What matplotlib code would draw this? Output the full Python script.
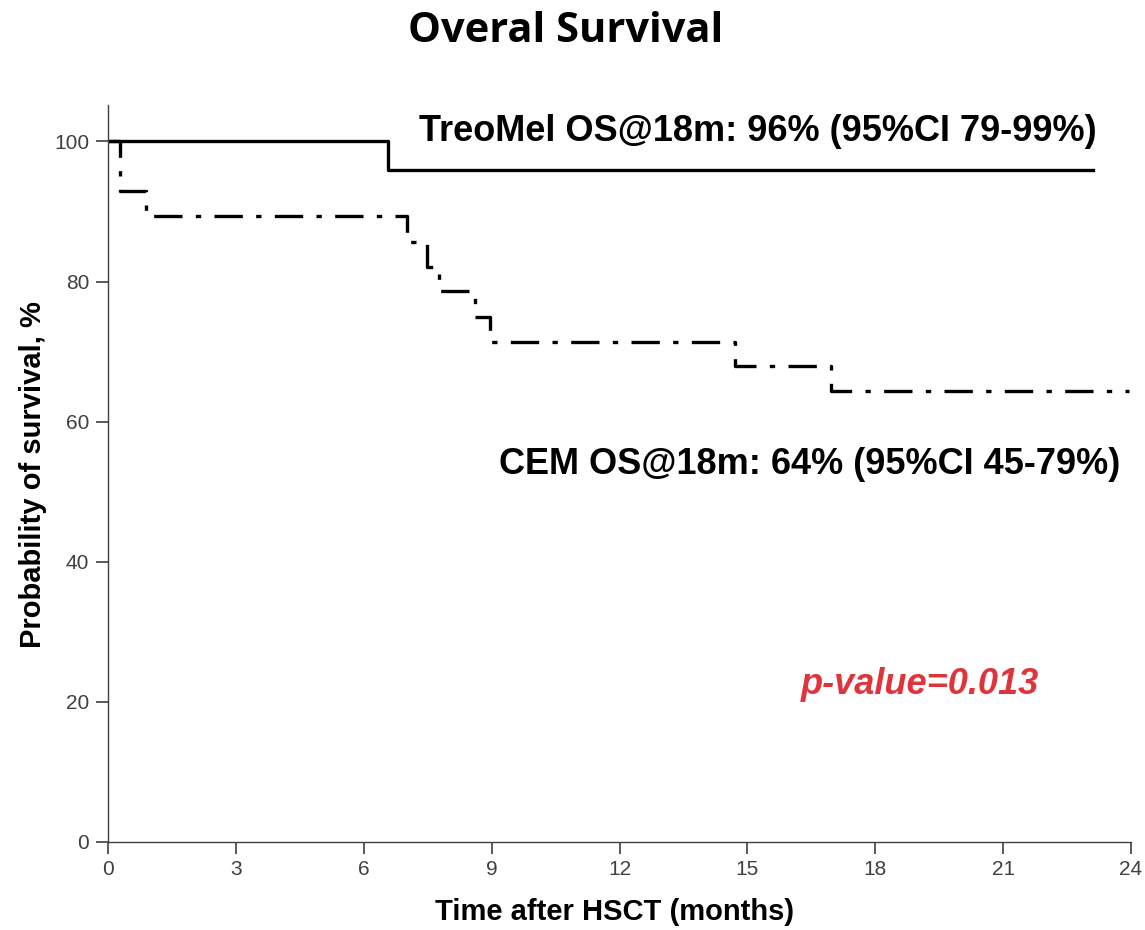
import matplotlib
matplotlib.use('Agg')
import matplotlib.pyplot as plt

# Kaplan-Meier steps
treo_t = [0, 6.57, 23.1]
treo_s = [100, 96.0, 96.0]

cem_t = [0, 0.28, 0.89, 7.01, 7.48, 7.77, 8.62, 8.97, 14.7, 16.95, 23.95]
cem_s = [100, 92.9, 89.3, 85.7, 82.1, 78.6, 75.0, 71.4, 67.9, 64.3, 64.3]

xticks = [0, 3, 6, 9, 12, 15, 18, 21, 24]
yticks = [0, 20, 40, 60, 80, 100]

plt.rcParams['font.family'] = ['Liberation Sans', 'DejaVu Sans']

fig = plt.figure(figsize=(11.45, 9.3), dpi=100)
ax = fig.add_axes([0.0943, 0.095, 0.8935, 0.792])

ax.step(treo_t, treo_s, where='post', color='black', lw=2.4)
ax.step(cem_t, cem_s, where='post', color='black', lw=2.4,
        linestyle=(0, (8.5, 4, 1.6, 4)))

ax.set_xlim(0, 24)
ax.set_ylim(0, 105.2)
ax.set_xticks(xticks)
ax.set_yticks(yticks)

for s in ['top', 'right']:
    ax.spines[s].set_visible(False)
for s in ['left', 'bottom']:
    ax.spines[s].set_color('#404040')
    ax.spines[s].set_linewidth(1.0)
ax.tick_params(axis='both', direction='out', length=8.5, width=1.2,
               color='#404040', labelcolor='#404040', labelsize=15, pad=5)

ax.set_xlabel('Time after HSCT (months)', fontsize=21, fontweight='bold')
ax.xaxis.set_label_coords(0.495, -0.0954)
ax.xaxis.label.set_verticalalignment('center')
ax.set_ylabel('Probability of survival, %', fontsize=21, fontweight='bold')
ax.yaxis.set_label_coords(-0.0733, 0.499)
ax.yaxis.label.set_verticalalignment('center')

ax.text(23.2, 101.4, 'TreoMel OS@18m: 96% (95%CI 79-99%)', ha='right',
        va='center', fontsize=26, fontweight='bold')
ax.text(23.74, 53.8, 'CEM OS@18m: 64% (95%CI 45-79%)', ha='right',
        va='center', fontsize=26, fontweight='bold')
ax.text(19.05, 22.4, 'p-value=0.013', ha='center', va='center', fontsize=26,
        fontweight='bold', fontstyle='italic', color='#e0343c')

fig.text(0.494, 0.966, 'Overal Survival', ha='center', va='center',
         fontsize=30, fontweight='bold', family=['Open Sans', 'DejaVu Sans'])

fig.savefig('out.png', dpi=100)
